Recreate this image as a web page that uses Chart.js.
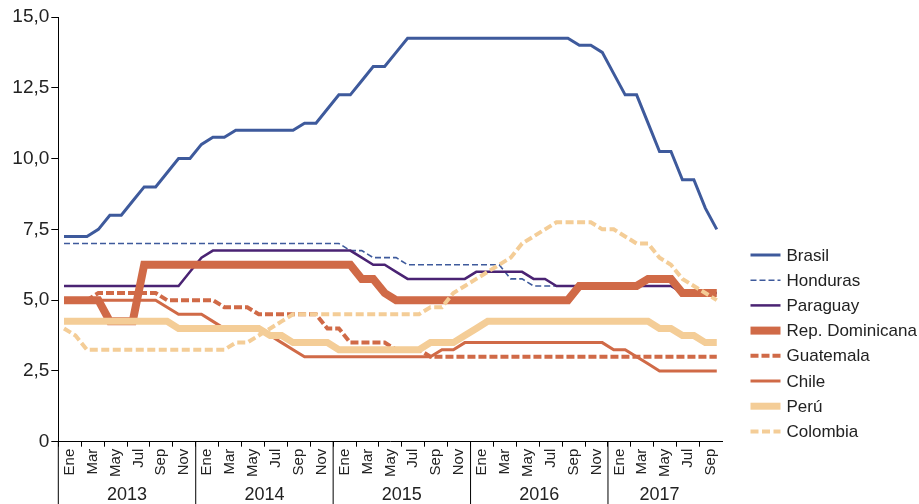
<!DOCTYPE html>
<html lang="es">
<head>
<meta charset="utf-8">
<title>Tasas de política monetaria</title>
<script src="https://cdn.jsdelivr.net/npm/chart.js@4.4.1/dist/chart.umd.min.js"></script>
<style>
  html, body { margin: 0; padding: 0; background: #fff; }
  #wrap { position: relative; width: 919px; height: 504px; }
</style>
</head>
<body>
<div id="wrap"><canvas id="tasasChart"></canvas></div>
<script>
(function () {
    // meses Ene 2013 – Oct 2017
    const meses = ['Ene', 'Feb', 'Mar', 'Abr', 'May', 'Jun', 'Jul', 'Ago', 'Sep', 'Oct', 'Nov', 'Dic'];
    const anios = ['2013', '2014', '2015', '2016', '2017'];
    const categorias = [];
    anios.forEach((a) => meses.forEach((m) => categorias.push(m + ' ' + a)));
    categorias.length = 58;

    const yTicks = ['0', '2,5', '5,0', '7,5', '10,0', '12,5', '15,0'];

    const brasil = [
        7.25, 7.25, 7.25, 7.5, 8, 8, 8.5, 9, 9, 9.5, 10, 10,
        10.5, 10.75, 10.75, 11, 11, 11, 11, 11, 11, 11.25, 11.25, 11.75,
        12.25, 12.25, 12.75, 13.25, 13.25, 13.75, 14.25, 14.25, 14.25, 14.25, 14.25, 14.25,
        14.25, 14.25, 14.25, 14.25, 14.25, 14.25, 14.25, 14.25, 14.25, 14, 14, 13.75,
        13, 12.25, 12.25, 11.25, 10.25, 10.25, 9.25, 9.25, 8.25, 7.5,
    ];
    const honduras = [
        7, 7, 7, 7, 7, 7, 7, 7, 7, 7, 7, 7,
        7, 7, 7, 7, 7, 7, 7, 7, 7, 7, 7, 7,
        7, 6.75, 6.75, 6.5, 6.5, 6.5, 6.25, 6.25, 6.25, 6.25, 6.25, 6.25,
        6.25, 6.25, 6.25, 5.75, 5.75, 5.5, 5.5, 5.5, 5.5, 5.5, 5.5, 5.5,
        5.5, 5.5, 5.5, 5.5, 5.5, 5.5, 5.25, 5.25, 5.25, 5.25,
    ];
    const paraguay = [
        5.5, 5.5, 5.5, 5.5, 5.5, 5.5, 5.5, 5.5, 5.5, 5.5, 5.5, 6,
        6.5, 6.75, 6.75, 6.75, 6.75, 6.75, 6.75, 6.75, 6.75, 6.75, 6.75, 6.75,
        6.75, 6.75, 6.5, 6.25, 6.25, 6, 5.75, 5.75, 5.75, 5.75, 5.75, 5.75,
        6, 6, 6, 6, 6, 5.75, 5.75, 5.5, 5.5, 5.5, 5.5, 5.5,
        5.5, 5.5, 5.5, 5.5, 5.5, 5.5, 5.25, 5.25, 5.25, 5.25,
    ];
    const repDominicana = [
        5, 5, 5, 5, 4.25, 4.25, 4.25, 6.25, 6.25, 6.25, 6.25, 6.25,
        6.25, 6.25, 6.25, 6.25, 6.25, 6.25, 6.25, 6.25, 6.25, 6.25, 6.25, 6.25,
        6.25, 6.25, 5.75, 5.75, 5.25, 5, 5, 5, 5, 5, 5, 5,
        5, 5, 5, 5, 5, 5, 5, 5, 5, 5.5, 5.5, 5.5,
        5.5, 5.5, 5.5, 5.75, 5.75, 5.75, 5.25, 5.25, 5.25, 5.25,
    ];
    const guatemala = [
        5, 5, 5, 5.25, 5.25, 5.25, 5.25, 5.25, 5.25, 5, 5, 5,
        5, 5, 4.75, 4.75, 4.75, 4.5, 4.5, 4.5, 4.5, 4.5, 4.5, 4,
        4, 3.5, 3.5, 3.5, 3.5, 3.25, 3.25, 3.25, 3, 3, 3, 3,
        3, 3, 3, 3, 3, 3, 3, 3, 3, 3, 3, 3,
        3, 3, 3, 3, 3, 3, 3, 3, 3, 3,
    ];
    const chile = [
        5, 5, 5, 5, 5, 5, 5, 5, 5, 4.75, 4.5, 4.5,
        4.5, 4.25, 4, 4, 4, 4, 3.75, 3.5, 3.25, 3, 3, 3,
        3, 3, 3, 3, 3, 3, 3, 3, 3, 3.25, 3.25, 3.5,
        3.5, 3.5, 3.5, 3.5, 3.5, 3.5, 3.5, 3.5, 3.5, 3.5, 3.5, 3.5,
        3.25, 3.25, 3, 2.75, 2.5, 2.5, 2.5, 2.5, 2.5, 2.5,
    ];
    const peru = [
        4.25, 4.25, 4.25, 4.25, 4.25, 4.25, 4.25, 4.25, 4.25, 4.25, 4, 4,
        4, 4, 4, 4, 4, 4, 3.75, 3.75, 3.5, 3.5, 3.5, 3.5,
        3.25, 3.25, 3.25, 3.25, 3.25, 3.25, 3.25, 3.25, 3.5, 3.5, 3.5, 3.75,
        4, 4.25, 4.25, 4.25, 4.25, 4.25, 4.25, 4.25, 4.25, 4.25, 4.25, 4.25,
        4.25, 4.25, 4.25, 4.25, 4, 4, 3.75, 3.75, 3.5, 3.5,
    ];
    const colombia = [
        4, 3.75, 3.25, 3.25, 3.25, 3.25, 3.25, 3.25, 3.25, 3.25, 3.25, 3.25,
        3.25, 3.25, 3.25, 3.5, 3.5, 3.75, 4, 4.25, 4.5, 4.5, 4.5, 4.5,
        4.5, 4.5, 4.5, 4.5, 4.5, 4.5, 4.5, 4.5, 4.75, 4.75, 5.25, 5.5,
        5.75, 6, 6.25, 6.5, 7, 7.25, 7.5, 7.75, 7.75, 7.75, 7.75, 7.5,
        7.5, 7.25, 7, 7, 6.5, 6.25, 5.75, 5.5, 5.25, 5,
    ];

    const azul = '#3e5a9c';
    const morado = '#4a2373';
    const naranja = '#d06a47';
    const arena = '#f4cd97';

    const series = [
        { label: 'Brasil', data: brasil, color: azul, width: 3, dash: [] },
        { label: 'Honduras', data: honduras, color: azul, width: 1.6, dash: [6, 3] },
        { label: 'Paraguay', data: paraguay, color: morado, width: 2.5, dash: [] },
        { label: 'Rep. Dominicana', data: repDominicana, color: naranja, width: 8, dash: [] },
        { label: 'Guatemala', data: guatemala, color: naranja, width: 4, dash: [8, 3] },
        { label: 'Chile', data: chile, color: naranja, width: 3, dash: [] },
        { label: 'Perú', data: peru, color: arena, width: 7, dash: [] },
        { label: 'Colombia', data: colombia, color: arena, width: 4, dash: [8, 3.5] },
    ];

    const fuente = '"Liberation Sans", Arial, sans-serif';
    const tinta = '#222';
    Chart.defaults.font.family = fuente;

    // separadores y etiquetas de año bajo el eje x
    const ejeAnios = {
        id: 'ejeAnios',
        afterDraw(chart) {
            const xs = chart.scales.x;
            const ctx = chart.ctx;
            const paso = xs.getPixelForValue(1) - xs.getPixelForValue(0);
            ctx.save();
            ctx.strokeStyle = '#000';
            ctx.lineWidth = 1;
            ctx.fillStyle = tinta;
            ctx.font = '18px ' + fuente;
            ctx.textAlign = 'center';
            ctx.textBaseline = 'middle';
            anios.forEach((a, k) => {
                const i0 = k * 12;
                const i1 = Math.min(i0 + 12, categorias.length);
                const xa = xs.getPixelForValue(i0) - paso / 2;
                const xb = xs.getPixelForValue(i1 - 1) + paso / 2;
                ctx.beginPath();
                ctx.moveTo(xa, xs.top);
                ctx.lineTo(xa, chart.height);
                ctx.stroke();
                const xc = i1 - i0 < 12 ? (xa + xb - paso) / 2 : (xa + xb) / 2;
                ctx.fillText(a, xc, 495);
            });
            ctx.restore();
        },
    };

    // leyenda a la derecha
    const leyenda = {
        id: 'leyendaLateral',
        afterDraw(chart) {
            const ctx = chart.ctx;
            const x0 = chart.chartArea.right + 28;
            ctx.save();
            chart.data.datasets.forEach((ds, i) => {
                const y = 255 + i * 25.2;
                ctx.beginPath();
                ctx.strokeStyle = ds.borderColor;
                ctx.lineWidth = ds.borderWidth;
                ctx.setLineDash(ds.borderDash || []);
                ctx.moveTo(x0, y);
                ctx.lineTo(x0 + 30, y);
                ctx.stroke();
                ctx.setLineDash([]);
                ctx.fillStyle = tinta;
                ctx.font = '17px ' + fuente;
                ctx.textBaseline = 'middle';
                ctx.fillText(ds.label, x0 + 36, y + 1);
            });
            ctx.restore();
        },
    };

    new Chart(document.getElementById('tasasChart'), {
        type: 'line',
        data: {
            labels: categorias,
            datasets: series.map((s, i) => ({
                label: s.label,
                data: s.data,
                borderColor: s.color,
                backgroundColor: s.color,
                borderWidth: s.width,
                borderDash: s.dash,
                pointRadius: 0,
                tension: 0,
                fill: false,
                order: series.length - i,
            })),
        },
        options: {
            responsive: true,
            maintainAspectRatio: false,
            animation: false,
            layout: { padding: { top: 17, right: 196.5, bottom: 0, left: 0 } },
            plugins: {
                legend: { display: false },
                tooltip: { enabled: false },
            },
            scales: {
                x: {
                    type: 'category',
                    offset: true,
                    grid: {
                        offset: true,
                        drawOnChartArea: false,
                        drawTicks: true,
                        tickLength: 5,
                        lineWidth: 1,
                        color: (c) => (c.index % 2 === 0 && c.index < categorias.length ? '#000' : 'rgba(0,0,0,0)'),
                    },
                    border: { display: true, color: '#000', width: 1 },
                    ticks: {
                        autoSkip: false,
                        minRotation: 90,
                        maxRotation: 90,
                        padding: 2,
                        labelOffset: 5.7,
                        color: tinta,
                        font: { size: 15 },
                        callback: (v, i) => (i % 2 === 0 ? meses[i % 12] : ''),
                    },
                    afterFit: (scale) => { scale.height = 62.3; },
                },
                y: {
                    min: 0,
                    max: 15,
                    grid: {
                        drawOnChartArea: false,
                        drawTicks: true,
                        tickLength: 7,
                        color: '#000',
                    },
                    border: { display: true, color: '#000', width: 1 },
                    ticks: {
                        stepSize: 2.5,
                        padding: 2,
                        color: tinta,
                        font: { size: 19 },
                        callback: (v, i) => yTicks[i],
                    },
                    afterFit: (scale) => { scale.width = 58.3; },
                },
            },
        },
        plugins: [ejeAnios, leyenda],
    });
})();
</script>
</body>
</html>
